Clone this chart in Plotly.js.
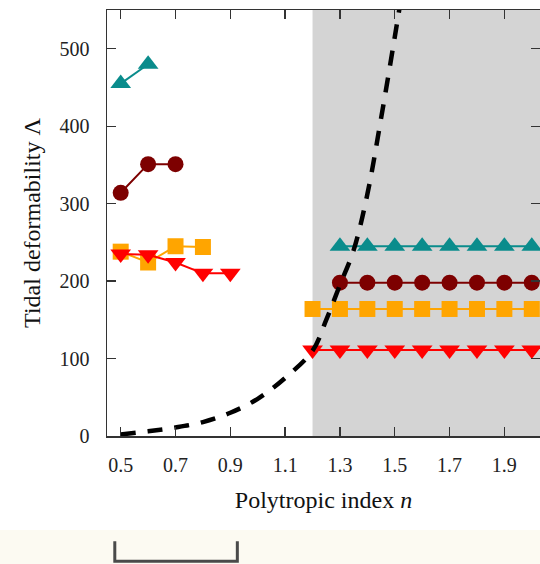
<!DOCTYPE html>
<html>
<head>
<meta charset="utf-8">
<script src="https://cdn.plot.ly/plotly-3.0.1.min.js"></script>
<style>html,body{margin:0;padding:0;background:#fff;overflow:hidden}</style>
</head>
<body>
<div id="chart" style="width:540px;height:564px"></div>
<script>
// Left (stable) branches
var nTeal = [0.5, 0.6];
var lamTeal = [455, 480];
var nMaroon = [0.5, 0.6, 0.7];
var lamMaroon = [314, 351, 351];
var nOrange = [0.5, 0.6, 0.7, 0.8];
var lamOrange = [238, 224, 245, 244];
var nRed = [0.5, 0.6, 0.7, 0.8, 0.9];
var lamRed = [235, 234, 224, 210, 210];

// Right (shaded) branches
var nTealR = [1.3, 1.4, 1.5, 1.6, 1.7, 1.8, 1.9, 2.0];
var lamTealR = [245, 245, 245, 245, 245, 245, 245, 245];
var nMaroonR = [1.3, 1.4, 1.5, 1.6, 1.7, 1.8, 1.9, 2.0];
var lamMaroonR = [198, 198, 198, 198, 198, 198, 198, 198];
var nOrangeR = [1.2, 1.3, 1.4, 1.5, 1.6, 1.7, 1.8, 1.9, 2.0];
var lamOrangeR = [164, 164, 164, 164, 164, 164, 164, 164, 164];
var nRedR = [1.2, 1.3, 1.4, 1.5, 1.6, 1.7, 1.8, 1.9, 2.0];
var lamRedR = [111, 111, 111, 111, 111, 111, 111, 111, 111];

// Dashed black curve
var nCurve = [0.5, 0.6, 0.7, 0.8, 0.9, 1.0, 1.1, 1.2, 1.25, 1.3, 1.35, 1.4, 1.45, 1.5, 1.53];
var lamCurve = [2, 6, 11, 18, 30, 48, 75, 110, 150, 195, 240, 312, 410, 515, 580];

var shadeStart = 1.2;
var xRange = [0.45, 2.03];
var yRange = [0, 550];

var TEAL = '#0a8c8c', MAROON = '#7d0000', ORANGE = '#ffa500', RED = '#ff0000';

function series(x, y, color, symbol, size) {
  return {
    x: x, y: y, type: 'scatter', mode: 'lines+markers',
    line: {color: color, width: 2},
    marker: {color: color, symbol: symbol, size: size, line: {width: 0}},
    cliponaxis: false, hoverinfo: 'skip', showlegend: false
  };
}

var traces = [
  series(nTeal, lamTeal, TEAL, 'triangle-up', 18),
  series(nMaroon, lamMaroon, MAROON, 'circle', 16),
  series(nOrange, lamOrange, ORANGE, 'square', 16),
  series(nRed, lamRed, RED, 'triangle-down', 18),
  series(nTealR, lamTealR, TEAL, 'triangle-up', 18),
  series(nMaroonR, lamMaroonR, MAROON, 'circle', 16),
  series(nOrangeR, lamOrangeR, ORANGE, 'square', 16),
  series(nRedR, lamRedR, RED, 'triangle-down', 18),
  {
    x: nCurve, y: lamCurve, type: 'scatter', mode: 'lines',
    line: {color: '#000', width: 4.5, dash: '15px,12px', shape: 'spline'},
    hoverinfo: 'skip', showlegend: false
  }
];

var font = {family: '"Liberation Serif", "Times New Roman", serif', color: '#222'};

var layout = {
  width: 540, height: 564,
  margin: {l: 107, r: 0, t: 10, b: 128},
  paper_bgcolor: '#fff', plot_bgcolor: '#fff',
  font: font,
  xaxis: {
    range: xRange, tick0: 0.5, dtick: 0.2, ticks: 'inside', ticklen: 9, tickwidth: 1.3,
    tickcolor: '#333', showline: true, linecolor: '#333', linewidth: 1.5, mirror: 'ticks',
    showgrid: false, zeroline: false, automargin: false,
    tickfont: {family: font.family, size: 20, color: '#222'}, ticklabelstandoff: 10,
    title: {text: 'Polytropic index <i>n</i>', font: {family: font.family, size: 24, color: '#111'}, standoff: 16}
  },
  yaxis: {
    range: yRange, dtick: 100, ticks: 'inside', ticklen: 9, tickwidth: 1.3,
    tickcolor: '#333', showline: true, linecolor: '#333', linewidth: 1.5, mirror: 'ticks',
    showgrid: false, zeroline: false, automargin: false,
    tickfont: {family: font.family, size: 20, color: '#222'}, ticklabelstandoff: 12,
    title: {text: 'Tidal deformability Λ', font: {family: font.family, size: 24, color: '#111'}, standoff: 12}
  },
  shapes: [
    {type: 'rect', xref: 'x', yref: 'paper', x0: shadeStart, x1: xRange[1], y0: 0, y1: 1,
     fillcolor: '#d4d4d4', line: {width: 0}, layer: 'below'},
    {type: 'rect', xref: 'paper', yref: 'paper', x0: -0.3, x1: 1.01, y0: -0.2207, y1: -0.31,
     fillcolor: '#fcfaf2', line: {width: 0}, layer: 'below'},
    {type: 'path', xref: 'paper', yref: 'paper',
     path: 'M 0.018 -0.247 L 0.018 -0.294 L 0.301 -0.294 L 0.301 -0.247',
     line: {color: '#4a4a4a', width: 3}}
  ]
};

Plotly.newPlot('chart', traces, layout, {staticPlot: true, displayModeBar: false});
</script>
</body>
</html>
